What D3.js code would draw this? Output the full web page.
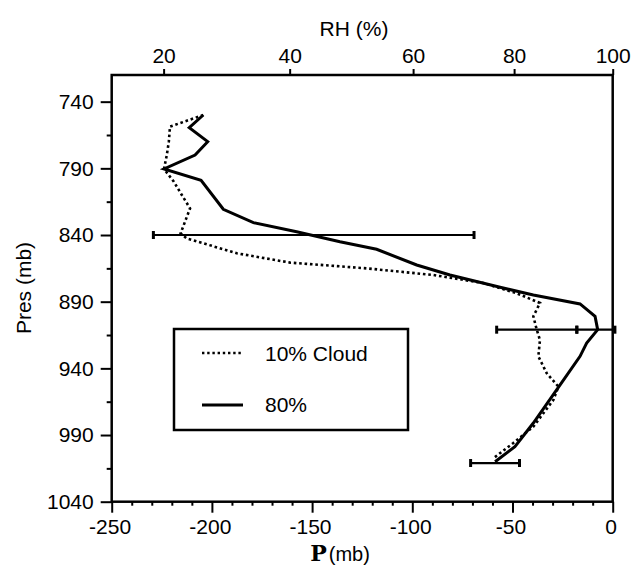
<!DOCTYPE html>
<html>
<head>
<meta charset="utf-8">
<script src="https://cdn.jsdelivr.net/npm/d3@7"></script>
<style>
  html, body { margin: 0; padding: 0; background: #fff; }
  svg { display: block; }
  text { font-family: "Liberation Sans", Arial, Helvetica, sans-serif; fill: #000; }
</style>
</head>
<body>
<svg id="chart" width="632" height="567"></svg>
<script>
// ---- data ----
// 80% series: pressure levels (mb) and P (mb)
const pres80 = [750, 759.5, 770, 780, 790.5, 799, 820.7, 830.7, 837.5, 845, 850.7, 862.5, 870, 879.2, 885, 891.7, 901, 911, 921, 931, 956, 981, 998.7, 1010];
const val80  = [-204.3, -211.3, -202.1, -208.4, -223.9, -205.4, -194.3, -179.3, -157.7, -136.1, -117.8, -97.8, -81.2, -56.2, -39.6, -16.3, -8.8, -7.5, -13, -16.3, -27.9, -39.6, -48.8, -58.7];
// 10% Cloud series
const pres10 = [750, 758.7, 770, 780, 790.5, 800, 810, 820, 838.7, 842.5, 853.7, 860.7, 865, 870, 876, 883.7, 891, 901, 911, 918.7, 931, 943.7, 953.7, 963.7, 983.7, 996, 1007.5];
const val10  = [-204.3, -220.9, -221.5, -222.5, -223.9, -219, -215, -210.9, -215.6, -212.6, -187.6, -161, -122.8, -89.5, -64.6, -47.9, -36.3, -39.6, -37.9, -36.3, -37.1, -32.9, -27.1, -29.6, -39.6, -49.6, -59.6];
// error bars
const errPres   = [840, 911, 911, 1011];
const errCenter = [-149.2, -37.9, -8.4, -58.7];
const errHalf   = [80, 20, 9.5, 12.2];
// axes
const presTicks = [740, 790, 840, 890, 940, 990, 1040];
const presMinor = [765, 815, 865, 915, 965, 1015];
const pTicks = [-250, -200, -150, -100, -50, 0];
const pMinor = d3.range(-240, 0, 10).filter(v => v % 50 !== 0);
const rhTicks = [20, 40, 60, 80, 100];
const rhAsP   = [-224.1, -161.2, -99.6, -49.2, 0];
const legendLabels = ["10% Cloud", "80%"];

// ---- layout ----
const L = 111.7, R = 612.7, T = 75, B = 501.7;
const svg = d3.select("#chart");
const x = d3.scaleLinear().domain([-250, 0]).range([L, R]);
const y = d3.scaleLinear().domain([720, 1040]).range([T, B]);
const xRH = d3.scaleLinear().domain(rhTicks).range(rhAsP.map(v => x(v)));

const fs = 21;
const fmt = d => String(d);

// left axis
const gl = svg.append("g").attr("transform", `translate(${L},0)`)
  .call(d3.axisLeft(y).tickValues(presTicks).tickSize(11).tickPadding(7).tickFormat(fmt));
gl.append("g").call(d3.axisLeft(y).tickValues(presMinor).tickSize(5).tickFormat(""));
// bottom axis
const gb = svg.append("g").attr("transform", `translate(0,${B})`)
  .call(d3.axisBottom(x).tickValues(pTicks).tickSize(11).tickPadding(6).tickFormat(fmt));
gb.append("g").call(d3.axisBottom(x).tickValues(pMinor).tickSize(4).tickFormat(""));
// top axis
const gt = svg.append("g").attr("transform", `translate(0,${T})`)
  .call(d3.axisTop(xRH).tickValues(rhTicks).tickSize(6).tickPadding(6).tickFormat(fmt));

svg.selectAll(".domain").remove();
svg.selectAll(".tick line").attr("stroke", "#000").attr("stroke-width", 2);
svg.selectAll(".tick text").style("font-size", fs + "px").style("font-family", '"Liberation Sans", Arial, sans-serif').attr("fill", "#000");
gb.selectAll(".tick text").attr("dx", "-0.1em");

// frame
svg.append("rect").attr("x", L).attr("y", T).attr("width", R - L).attr("height", B - T)
  .attr("fill", "none").attr("stroke", "#000").attr("stroke-width", 2.5);

// axis titles
svg.append("text").attr("x", 354).attr("y", 36).attr("text-anchor", "middle")
  .style("font-size", fs + "px").text("RH (%)");
svg.append("text").attr("transform", "translate(31,288) rotate(-90)").attr("text-anchor", "middle")
  .style("font-size", fs + "px").text("Pres (mb)");
const bt = svg.append("text").attr("x", 340).attr("y", 561).attr("text-anchor", "middle");
bt.append("tspan").style("font-family", '"DejaVu Serif", "Liberation Serif", serif')
  .style("font-weight", "bold").style("font-size", "22px").text("P");
bt.append("tspan").style("font-size", "20px").attr("dx", 2).text("(mb)");

// lines
const line = d3.line().x(d => x(d[1])).y(d => y(d[0]));
const d10 = pres10.map((p, i) => [p, val10[i]]);
const d80 = pres80.map((p, i) => [p, val80[i]]);
svg.append("path").datum(d10).attr("d", line).attr("fill", "none")
  .attr("stroke", "#000").attr("stroke-width", 2.6).attr("stroke-dasharray", "2.6,2.8");
svg.append("path").datum(d80).attr("d", line).attr("fill", "none")
  .attr("stroke", "#000").attr("stroke-width", 3).attr("stroke-linejoin", "miter");

// error bars
const eb = svg.append("g");
errPres.forEach((p, i) => {
  const x0 = x(errCenter[i] - errHalf[i]), x1 = x(errCenter[i] + errHalf[i]), yy = y(p);
  eb.append("line").attr("x1", x0).attr("x2", x1).attr("y1", yy).attr("y2", yy)
    .attr("stroke", "#000").attr("stroke-width", 2.2);
  [x0, x1].forEach(xx => eb.append("line").attr("x1", xx).attr("x2", xx)
    .attr("y1", yy - 4).attr("y2", yy + 4).attr("stroke", "#000").attr("stroke-width", 3));
});

// legend
const lg = svg.append("g");
lg.append("rect").attr("x", 174).attr("y", 329).attr("width", 234).attr("height", 101)
  .attr("fill", "#fff").attr("stroke", "#000").attr("stroke-width", 2.5);
lg.append("line").attr("x1", 202).attr("x2", 241).attr("y1", 353).attr("y2", 353)
  .attr("stroke", "#000").attr("stroke-width", 2.4).attr("stroke-dasharray", "2.4,2.8");
lg.append("line").attr("x1", 202).attr("x2", 243).attr("y1", 405).attr("y2", 405)
  .attr("stroke", "#000").attr("stroke-width", 3);
lg.append("text").attr("x", 265).attr("y", 361).style("font-size", fs + "px").text(legendLabels[0]);
lg.append("text").attr("x", 265).attr("y", 412).style("font-size", fs + "px").text(legendLabels[1]);
</script>
</body>
</html>
